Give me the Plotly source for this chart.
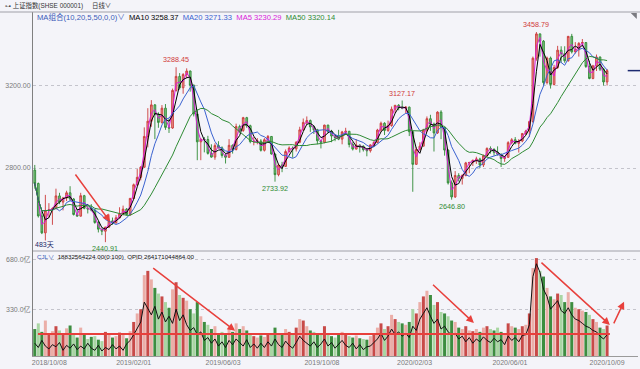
import plotly.graph_objects as go
import pandas as pd

# ---------------- data (3-trading-day candles, 2018/10/08 .. 2020/10/09) ----------------
open_ = [2790, 2725, 2568, 2486, 2594, 2598, 2603, 2665, 2635, 2655,
         2680, 2650, 2575, 2567, 2666, 2605, 2602, 2597, 2536, 2504,
         2494, 2514, 2544, 2535, 2559, 2579, 2601, 2575, 2653, 2719,
         2755, 2804, 2953, 3027, 3106, 3060, 3021, 3090, 2997, 2994,
         3176, 3244, 3189, 3253, 3270, 3201, 3062, 2927, 2939, 2938,
         2871, 2853, 2909, 2898, 2861, 2852, 2910, 2890, 3001, 2982,
         3044, 3005, 2928, 2930, 2931, 2886, 2937, 2953, 2868, 2768,
         2815, 2808, 2880, 2897, 2893, 2925, 2985, 3021, 3030, 2999,
         2985, 2932, 2925, 3008, 2978, 2955, 2948, 2940, 2975, 2978,
         2914, 2892, 2911, 2906, 2889, 2884, 2912, 2924, 2984, 3017,
         2982, 3006, 3085, 3104, 3092, 3090, 3095, 2976, 2818, 2890,
         2906, 2984, 3039, 3013, 2970, 3071, 2997, 2887, 2728, 2660,
         2764, 2750, 2764, 2825, 2827, 2838, 2844, 2815, 2860, 2895,
         2891, 2876, 2867, 2846, 2852, 2923, 2937, 2920, 2931, 2967,
         2979, 3025, 3332, 3450, 3415, 3214, 3333, 3205, 3287, 3371,
         3354, 3320, 3438, 3363, 3373, 3404, 3408, 3292, 3234, 3295,
         3338, 3279, 3217]
high = [2815, 2730, 2590, 2670, 2630, 2610, 2700, 2680, 2660, 2690,
        2712, 2655, 2600, 2680, 2670, 2615, 2625, 2600, 2545, 2505,
        2515, 2575, 2560, 2572, 2610, 2618, 2606, 2655, 2725, 2795,
        2810, 2997, 3090, 3129, 3110, 3070, 3105, 3110, 3040, 3185,
        3288.45, 3260, 3260, 3283, 3272, 3205, 3085, 2945, 2950, 2956,
        2915, 2920, 2930, 2905, 2870, 2940, 2915, 3015, 3010, 3048,
        3048, 3010, 2950, 2945, 2940, 2945, 2960, 2955, 2870, 2820,
        2830, 2890, 2905, 2905, 2930, 3000, 3040, 3050, 3035, 3005,
        2990, 2935, 3010, 3010, 2985, 2960, 2985, 2980, 2995, 2980,
        2925, 2940, 2915, 2910, 2890, 2915, 2930, 2990, 3025, 3022,
        3030, 3098, 3105, 3110, 3127.17, 3100, 3098, 2980, 2900, 2925,
        2990, 3050, 3058, 3020, 3075, 3080, 3000, 2890, 2740, 2785,
        2775, 2770, 2830, 2830, 2840, 2855, 2850, 2865, 2900, 2905,
        2895, 2905, 2870, 2855, 2930, 2945, 2950, 2940, 2970, 2985,
        3030, 3340, 3458.79, 3452, 3420, 3340, 3340, 3300, 3392, 3390,
        3390, 3440, 3450, 3410, 3410, 3425, 3410, 3320, 3300, 3350,
        3340, 3285, 3280]
low = [2700, 2560, 2480, 2449, 2560, 2525, 2600, 2625, 2595, 2640,
       2640, 2570, 2565, 2565, 2600, 2580, 2590, 2530, 2488, 2475,
       2440.91, 2510, 2525, 2530, 2555, 2570, 2570, 2570, 2650, 2715,
       2740, 2800, 2900, 3000, 2940, 2995, 3015, 2985, 2970, 2990,
       3170, 3180, 3160, 3235, 3170, 3050, 2838, 2838, 2876, 2865,
       2850, 2840, 2895, 2850, 2822, 2850, 2870, 2885, 2970, 2975,
       2995, 2920, 2910, 2915, 2880, 2880, 2925, 2865, 2733.92, 2760,
       2780, 2805, 2875, 2850, 2880, 2920, 2980, 3010, 2975, 2965,
       2915, 2895, 2920, 2970, 2925, 2930, 2935, 2915, 2960, 2900,
       2885, 2890, 2875, 2880, 2857, 2875, 2905, 2920, 2975, 2960,
       2975, 3000, 3065, 3080, 3085, 3065, 2955, 2685, 2815, 2885,
       2905, 2975, 2980, 2880, 2965, 2940, 2860, 2720, 2646.80, 2655,
       2735, 2720, 2760, 2775, 2810, 2820, 2800, 2805, 2855, 2870,
       2860, 2860, 2805, 2830, 2850, 2915, 2915, 2875, 2925, 2960,
       2950, 3020, 3320, 3340, 3200, 3205, 3185, 3200, 3280, 3310,
       3310, 3315, 3355, 3355, 3340, 3390, 3285, 3230, 3230, 3270,
       3270, 3200, 3200]
close = [2725, 2568, 2486, 2594, 2598, 2603, 2665, 2635, 2655, 2680,
         2650, 2575, 2567, 2666, 2605, 2602, 2597, 2536, 2504, 2494,
         2514, 2544, 2535, 2559, 2579, 2601, 2575, 2653, 2719, 2755,
         2804, 2953, 3027, 3106, 3060, 3021, 3090, 2997, 2994, 3176,
         3244, 3189, 3253, 3270, 3201, 3062, 2927, 2939, 2938, 2871,
         2853, 2909, 2898, 2861, 2852, 2910, 2890, 3001, 2982, 3044,
         3005, 2928, 2930, 2931, 2886, 2937, 2953, 2868, 2768, 2815,
         2808, 2880, 2897, 2893, 2925, 2985, 3021, 3030, 2999, 2985,
         2932, 2925, 3008, 2978, 2955, 2948, 2940, 2975, 2978, 2914,
         2892, 2911, 2906, 2889, 2884, 2912, 2924, 2984, 3017, 2982,
         3006, 3085, 3104, 3092, 3090, 3095, 2976, 2818, 2890, 2906,
         2984, 3039, 3013, 2970, 3071, 2997, 2887, 2728, 2660, 2764,
         2750, 2764, 2825, 2827, 2838, 2844, 2815, 2860, 2895, 2891,
         2876, 2867, 2846, 2852, 2923, 2937, 2920, 2931, 2967, 2979,
         3025, 3332, 3450, 3415, 3214, 3333, 3205, 3287, 3371, 3354,
         3320, 3438, 3363, 3373, 3404, 3408, 3292, 3234, 3295, 3338,
         3279, 3217, 3272]
volume = [190, 230, 170, 250, 160, 175, 210, 180, 160, 195,
          215, 150, 130, 200, 150, 120, 135, 140, 115, 105,
          170, 160, 130, 140, 165, 150, 125, 175, 240, 300,
          330, 570, 600, 540, 480, 440, 420, 380, 340, 470,
          520, 430, 410, 390, 330, 300, 380, 280, 240, 220,
          190, 210, 160, 170, 150, 200, 170, 230, 190, 210,
          180, 150, 140, 130, 145, 135, 160, 150, 200, 160,
          150, 190, 170, 150, 200, 260, 250, 210, 180, 170,
          160, 150, 210, 160, 140, 130, 150, 170, 160, 140,
          130, 145, 125, 120, 115, 140, 150, 200, 230, 190,
          210, 290, 260, 240, 230, 220, 240, 330, 300, 380,
          420, 460, 430, 360, 380, 310, 300, 280, 250, 240,
          200, 190, 210, 180, 175, 190, 170, 200, 210, 190,
          180, 200, 170, 160, 230, 210, 200, 190, 210, 220,
          300, 620, 690, 600, 560, 480, 420, 400, 440, 430,
          380, 450, 380, 340, 330, 320, 310, 290, 260, 240,
          200, 190, 215]
opid = [90, 60, 110, 70, 50, 80, 65, 95, 40, 75,
        55, 85, 45, 70, 50, 90, 55, 40, 75, 35,
        60, 45, 80, 50, 70, 40, 85, 110, 150, 190,
        240, 380, 330, 290, 350, 260, 310, 240, 280, 230,
        330, 250, 290, 220, 180, 200, 150, 170, 110, 130,
        90, 120, 70, 100, 60, 110, 80, 120, 95, 70,
        115, 60, 85, 55, 90, 60, 100, 70, 120, 80,
        60, 105, 75, 55, 95, 140, 110, 90, 70, 100,
        60, 85, 120, 70, 95, 55, 80, 110, 75, 60,
        90, 50, 80, 45, 65, 70, 95, 120, 160, 110,
        140, 190, 150, 170, 140, 160, 130, 210, 180, 260,
        300, 340, 280, 230, 260, 190, 210, 170, 150, 160,
        120, 140, 100, 130, 90, 120, 100, 135, 110, 95,
        125, 100, 115, 80, 140, 110, 130, 100, 145, 150,
        220, 560, 650, 590, 470, 420, 330, 360, 390, 320,
        300, 340, 290, 260, 250, 230, 210, 200, 180, 170,
        140, 120, 150]

tick_labels = ["2018/10/08", "2019/02/01", "2019/06/03", "2019/10/08",
               "2020/02/03", "2020/06/01", "2020/10/09"]
tick_candle = [4.1, 28, 53.3, 81.3, 107.5, 134.5, 162]

ma_names = ["MA5", "MA10", "MA20", "MA50"]
ma_windows = [2, 3, 7, 17]          # in 3-day candles
ma_colors = ["#d81ed8", "#000000", "#3a62d0", "#2e8b34"]

high_marks = [3288.45, 3127.17, 3458.79]
low_marks = [2440.91, 2733.92, 2646.80]

# hand-drawn red annotations (tail -> head), in data units
arrows_main = [((11.2, 2776), (21.3, 2540))]
arrows_vol = [((33.1, 627), (56.7, 178)), ((112.3, 512), (124.3, 233)),
              ((143.0, 668), (162.8, 219)), ((163.7, 219), (166.8, 383))]
vol_ref_level = 155
vol_ref_span = (0.9, 162.8)

# ---------------- figure ----------------
idx = list(range(len(close)))
bg = "#f4f4f9"
red_arrow = "#e8403c"
font_fam = "Liberation Sans, Noto Sans CJK SC, sans-serif"

fig = go.Figure()
fig.add_trace(go.Candlestick(
    x=idx, open=open_, high=high, low=low, close=close,
    increasing=dict(line=dict(color="#cc3a3a", width=0.9), fillcolor="#e8928c"),
    decreasing=dict(line=dict(color="#2f8a35", width=0.9), fillcolor="#7fbf7f"),
    whiskerwidth=0, xaxis="x", yaxis="y", showlegend=False, hoverinfo="skip"))

cs = pd.Series(close, dtype=float)
for name, w, c in zip(ma_names, ma_windows, ma_colors):
    fig.add_trace(go.Scatter(x=idx, y=cs.rolling(w, min_periods=1).mean(), mode="lines",
                             line=dict(color=c, width=1), xaxis="x", yaxis="y",
                             showlegend=False, hoverinfo="skip"))

bar_colors = []
for i, (o, c) in enumerate(zip(open_, close)):
    if c >= o:
        bar_colors.append("#c84a48" if i % 2 == 0 else "#ebaea8")
    else:
        bar_colors.append("#3d8d40" if i % 2 == 0 else "#a9d6a3")
fig.add_trace(go.Bar(x=idx, y=volume, marker=dict(color=bar_colors, line=dict(width=0)),
                     xaxis="x2", yaxis="y2", showlegend=False, hoverinfo="skip"))
fig.add_trace(go.Scatter(x=idx, y=opid, mode="lines", line=dict(color="#111111", width=1),
                         xaxis="x2", yaxis="y2", showlegend=False, hoverinfo="skip"))

xr = [-0.5, 170.75]
split = 0.3052
axis_font = dict(family=font_fam, size=7, color="#7a7a7a")
fig.update_layout(
    width=640, height=369, margin=dict(l=33, r=2, t=12, b=13, autoexpand=False),
    paper_bgcolor=bg, plot_bgcolor=bg, bargap=0.15, showlegend=False,
    font=dict(family=font_fam),
    xaxis=dict(domain=[0, 1], range=xr, anchor="y", showticklabels=False, showgrid=False,
               zeroline=False, rangeslider=dict(visible=False), ticks="", automargin=False),
    xaxis2=dict(domain=[0, 1], range=xr, anchor="y2", matches="x", showgrid=False, zeroline=False,
                tickvals=tick_candle, ticktext=tick_labels, tickfont=axis_font, ticks="",
                showline=True, linecolor="#9a9a9a", linewidth=1, automargin=False),
    yaxis=dict(domain=[split, 1], range=[2398, 3556], tickvals=[2800, 3200],
               ticktext=["2800.00", "3200.00"], tickfont=axis_font, ticks="",
               showgrid=True, gridcolor="#c4c4cc", griddash="dot", gridwidth=1,
               zeroline=False, showline=True, linecolor="#808080", linewidth=1, automargin=False),
    yaxis2=dict(domain=[0, split], range=[0, 740], tickvals=[330, 680],
                ticktext=["330.0亿", "680.0亿"], tickfont=axis_font, ticks="",
                showgrid=True, gridcolor="#c4c4cc", griddash="dot", gridwidth=1,
                zeroline=False, showline=True, linecolor="#808080", linewidth=1, automargin=False),
)

shapes = [
    dict(type="line", xref="paper", yref="paper", x0=-0.06, x1=1.01, y0=1.0, y1=1.0,
         line=dict(color="#a0a0a8", width=1)),
    dict(type="line", xref="paper", yref="paper", x0=0, x1=1.01, y0=split, y1=split,
         line=dict(color="#a0a0a8", width=1)),
    dict(type="line", xref="paper", yref="y", x0=0.983, x1=1.01, y0=close[-1], y1=close[-1],
         line=dict(color="#1c2a70", width=1.5)),
    dict(type="path", xref="paper", yref="paper", path="M 0.988 0.997 L 0.998 0.997 L 0.998 0.980 Z",
         fillcolor="#7a7a80", line=dict(width=0)),
    dict(type="line", xref="x2", yref="y2", x0=vol_ref_span[0], x1=vol_ref_span[1],
         y0=vol_ref_level, y1=vol_ref_level, line=dict(color=red_arrow, width=2)),
]
fig.update_layout(shapes=shapes)

ann = []
hdr = dict(family=font_fam, size=6.4, color="#333333")
ann.append(dict(xref="paper", yref="paper", x=-0.05, y=1.0203, xanchor="left", yanchor="middle",
                text="⊶ 上证指数(SHSE 000001)", showarrow=False, font=hdr))
ann.append(dict(xref="paper", yref="paper", x=0.095, y=1.0203, xanchor="left", yanchor="middle",
                text="日线∨", showarrow=False, font=hdr))
line2 = ('<span style="color:#3a5ab8">MA组合(10,20,5,50,0,0)∨</span>&nbsp;&nbsp;'
         f'<span style="color:{ma_colors[1]}">MA10 3258.37</span>&nbsp;&nbsp;'
         f'<span style="color:{ma_colors[2]}">MA20 3271.33</span>&nbsp;&nbsp;'
         f'<span style="color:{ma_colors[0]}">MA5 3230.29</span>&nbsp;&nbsp;'
         f'<span style="color:{ma_colors[3]}">MA50 3320.14</span>')
ann.append(dict(xref="paper", yref="paper", x=0.0033, y=0.9855, xanchor="left", yanchor="middle",
                text=line2, showarrow=False, font=dict(family=font_fam, size=7.6, color="#000")))
vline = ('<span style="color:#3a5ab8">CJL∨</span>&nbsp;&nbsp;18832564224.00(0:100)&nbsp;&nbsp;'
         'OPID 264171044864.00')
ann.append(dict(xref="paper", yref="paper", x=0.0033, y=0.2895, xanchor="left", yanchor="middle",
                text=vline, showarrow=False, font=dict(family=font_fam, size=6.2, color="#111")))
ann.append(dict(xref="paper", yref="paper", x=0.0, y=0.3227, xanchor="left", yanchor="middle",
                text="483天", showarrow=False, font=dict(family=font_fam, size=7, color="#1d2a6a")))

for v in high_marks:
    i = high.index(v)
    ann.append(dict(xref="x", yref="y", x=i, y=v, text=f"{v:.2f}", showarrow=False,
                    yanchor="bottom", yshift=1, font=dict(family=font_fam, size=7.2, color="#d03838")))
for v in low_marks:
    i = low.index(v)
    ann.append(dict(xref="x", yref="y", x=i, y=v, text=f"{v:.2f}", showarrow=False,
                    yanchor="top", yshift=0, font=dict(family=font_fam, size=7.2, color="#2e8b34")))

for (tx, ty), (hx, hy) in arrows_main:
    ann.append(dict(xref="x", yref="y", axref="x", ayref="y", x=hx, y=hy, ax=tx, ay=ty,
                    showarrow=True, arrowhead=2, arrowsize=1, arrowwidth=1.5,
                    arrowcolor=red_arrow, text=""))
for (tx, ty), (hx, hy) in arrows_vol:
    ann.append(dict(xref="x2", yref="y2", axref="x2", ayref="y2", x=hx, y=hy, ax=tx, ay=ty,
                    showarrow=True, arrowhead=2, arrowsize=1, arrowwidth=1.5,
                    arrowcolor=red_arrow, text=""))
fig.update_layout(annotations=ann)

fig.write_html("out.html", config={"displayModeBar": False},
               post_script="document.body.style.margin='0';document.body.style.overflow='hidden';")
